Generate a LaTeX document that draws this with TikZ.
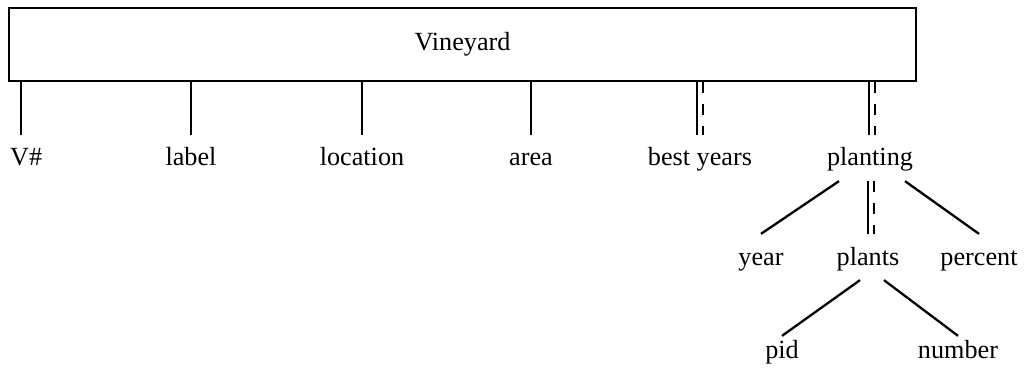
\documentclass[tikz,border=0pt]{standalone}
\usepackage{fontspec}
\setmainfont{Liberation Serif}
\usetikzlibrary{positioning}

\begin{document}
\begin{tikzpicture}[
    x=0.5pt, y=-0.5pt,
    line width=1.15pt,
    every node/.style={font=\fontsize{13.1}{15}\selectfont},
    entity/.style={
        rectangle, draw, line width=1.2pt,
        minimum width=453.5pt, minimum height=36.5pt, inner sep=0pt
    },
    attr/.style={
        anchor=base, inner xsep=0pt, inner ysep=6pt,
        text height=9pt, text depth=1pt
    },
    leaf/.style={attr, inner ysep=1.5pt},
    multi/.style={dash pattern=on 5.5pt off 5.5pt}
]
\useasboundingbox (0,0) rectangle (1024,374);

% entity box
\node[entity] (vineyard) at (462.5,44.5) {Vineyard};

% first level attributes
\node[attr, anchor=base west] (vnum) at (9,166) {V\#};
\node[attr] (label) at (191,166) {label};
\node[attr] (location) at (362,166) {location};
\node[attr] (area) at (531,166) {area};
\node[attr] (best) at (700,166) {best years};
\node[attr] (planting) at (870,166) {planting};

% attributes of planting
\node[attr] (year) at (761,265) {year};
\node[attr] (plants) at (868,265) {plants};
\node[attr] (percent) at (979,265) {percent};

% attributes of plants
\node[leaf] (pid) at (782,358) {pid};
\node[leaf] (number) at (958,358) {number};

% single valued
\draw ([xshift=-2.5pt]vnum.north) -- ([xshift=-2.5pt]vnum.north |- vineyard.south);
\draw (label.north) -- (label.north |- vineyard.south);
\draw (location.north) -- (location.north |- vineyard.south);
\draw (area.north) -- (area.north |- vineyard.south);

% multi valued
\draw ([xshift=-1.5pt]best.north) -- ([xshift=-1.5pt]best.north |- vineyard.south);
\draw[multi] ([xshift=1.5pt]best.north |- vineyard.south) -- ([xshift=1.5pt]best.north);
\draw ([xshift=-0.5pt]planting.north) -- ([xshift=-0.5pt]planting.north |- vineyard.south);
\draw[multi] ([xshift=2.5pt]planting.north |- vineyard.south) -- ([xshift=2.5pt]planting.north);

% planting
\draw ([xshift=-15.5pt]planting.south) -- (year.north);
\draw (plants.north) -- (plants.north |- planting.south);
\draw[multi] ([xshift=3pt]plants.north |- planting.south) -- ([xshift=3pt]plants.north);
\draw ([xshift=17.5pt]planting.south) -- (percent.north);

% plants
\draw ([xshift=-4pt]plants.south) -- (pid.north);
\draw ([xshift=8pt]plants.south) -- (number.north);

\end{tikzpicture}
\end{document}
